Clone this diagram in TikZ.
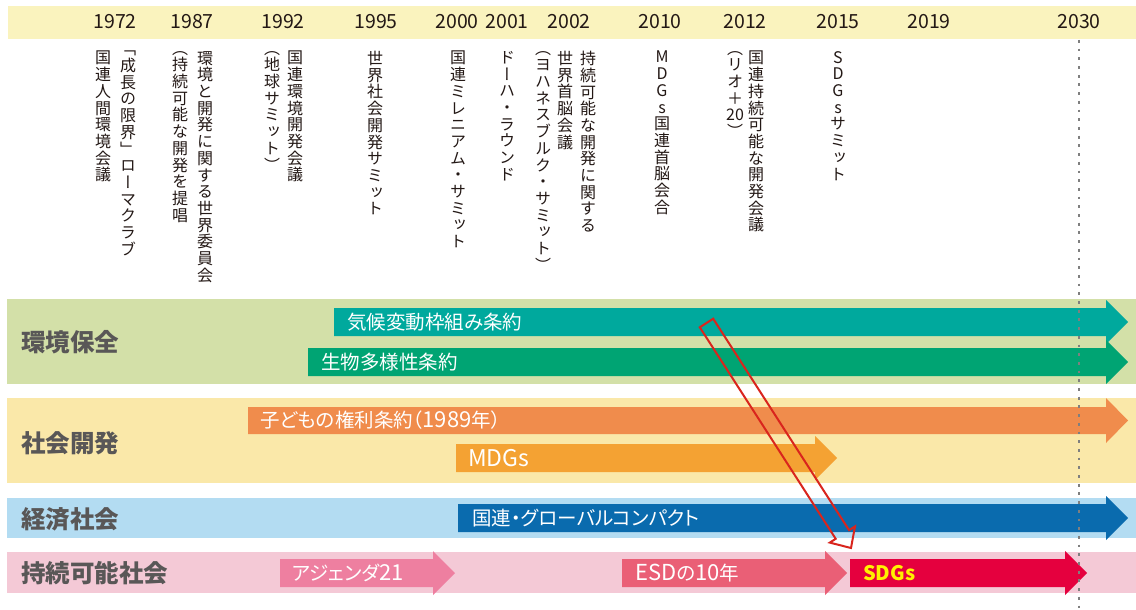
\documentclass[tikz,border=0pt]{standalone}
\usepackage{fontspec}
\setmainfont{Noto Sans CJK JP}
\newfontfamily\jpv[RawFeature=+vert]{Noto Sans CJK JP}
\newfontfamily\jpp[RawFeature=+palt]{Noto Sans CJK JP}
\definecolor{topband}{HTML}{FAF3BE}
\definecolor{gband}{HTML}{D3E0A8}
\definecolor{yband}{HTML}{FAE8A9}
\definecolor{bband}{HTML}{B3DCF2}
\definecolor{pband}{HTML}{F4C9D6}
\definecolor{tealc}{HTML}{00A99D}
\definecolor{greenc}{HTML}{00A473}
\definecolor{orangec}{HTML}{F08C4C}
\definecolor{mdgc}{HTML}{F4A233}
\definecolor{bluec}{HTML}{0A6BAE}
\definecolor{agc}{HTML}{EE7FA0}
\definecolor{esdc}{HTML}{EA5F76}
\definecolor{sdgc}{HTML}{E5003E}
\definecolor{sdgtext}{HTML}{FFF100}
\definecolor{redline}{HTML}{D9251D}
\definecolor{dotgray}{HTML}{7F7F7F}
\definecolor{labelgray}{HTML}{595757}
\definecolor{txtblack}{HTML}{231815}
\ExplSyntaxOn
\NewDocumentCommand\vcol{m}
 {
  \vbox:n
   {
    \skip_set:Nn \baselineskip {16.7pt}
    \dim_set:Nn \lineskiplimit {-100pt}
    \tl_map_inline:nn {#1} { \hbox_to_wd:nn {1em} { \hss ##1 \hss } }
   }
 }
\ExplSyntaxOff
\newcommand\lat[1]{{\fontsize{22}{20}\selectfont #1}}
\newcommand\barrow[8]{%
  \fill[#8] (#1,#2) -- (#4,#2) -- (#4,#6) -- (#5,{(#2+#3)/2}) -- (#4,#7) -- (#4,#3) -- (#1,#3) -- cycle;}
\tikzset{
  vtext/.style={anchor=north, inner sep=0pt, font=\jpv\fontsize{16}{16.7}\selectfont, text=txtblack},
  yearlab/.style={inner sep=0pt, font=\fontsize{19.5}{19.5}\selectfont, text=txtblack},
  bandlabel/.style={anchor=west, inner sep=0pt, font=\bfseries\fontsize{24.5}{25}\selectfont, text=labelgray},
  bartext/.style={anchor=west, inner sep=0pt, font=\jpp\fontsize{19.5}{20}\selectfont, text=white},
}
\begin{document}
\begin{tikzpicture}[x=1pt,y=-1pt]
\useasboundingbox (0,0) rectangle (1136,610);
\fill[white] (0,0) rectangle (1136,610);
% bands
\fill[topband] (8,6) rectangle (1136,39);
\fill[gband] (7,299) rectangle (1136,384);
\fill[yband] (7,398) rectangle (1136,483);
\fill[bband] (7,498) rectangle (1136,538);
\fill[pband] (7,552) rectangle (1136,593);
% years
\foreach \yx/\yr in {115/1972,192/1987,283/1992,376/1995,457/2000,507/2001,569/2002,660/2010,745/2012,838/2015,929/2019,1079/2030}
  \node[yearlab] (y\yr) at (\yx,22) {\yr};
% vertical texts
\node[vtext] (e72a) at (128,51) {\vcol{「成長の限界」ローマクラブ}};
\node[vtext] (e72b) at (103,51) {\vcol{国連人間環境会議}};
\node[vtext] (e87a) at (205,51) {\vcol{環境と開発に関する世界委員会}};
\node[vtext] (e87b) at (180,51) {\vcol{（持続可能な開発を提唱}};
\node[vtext] (e92a) at (295,51) {\vcol{国連環境開発会議}};
\node[vtext] (e92b) at (272,51) {\vcol{（地球サミット）}};
\node[vtext] (e95) at (375,51) {\vcol{世界社会開発サミット}};
\node[vtext] (e00) at (458,51) {\vcol{国連ミレニアム・サミット}};
\node[vtext] (e01) at (507,51) {\vcol{ドーハ・ラウンド}};
\node[vtext] (e02a) at (588,51) {\vcol{持続可能な開発に関する}};
\node[vtext] (e02b) at (565,51) {\vcol{世界首脳会議}};
\node[vtext] (e02c) at (543,51) {\vcol{（ヨハネスブルク・サミット）}};
\node[vtext] (e10) at (662,51) {\vcol{MDGs国連首脳会合}};
\node[vtext] (e12a) at (756,51) {\vcol{国連持続可能な開発会議}};
\node[vtext] (e12b) at (735,51) {\vcol{（リオ＋{20}）}};
\node[vtext] (e15) at (838,51) {\vcol{SDGsサミット}};
% band labels
\node[bandlabel] (l1) at (21,342) {環境保全};
\node[bandlabel] (l2) at (21,443) {社会開発};
\node[bandlabel] (l3) at (21,519) {経済社会};
\node[bandlabel] (l4) at (21,573) {持続可能社会};
% arrows
\barrow{334}{308}{336}{1106}{1128}{300}{344}{tealc}
\barrow{308}{348}{376}{1106}{1128}{340}{384}{greenc}
\barrow{248}{407}{434}{1106}{1128}{398}{443}{orangec}
\barrow{456}{444}{472}{815}{837}{436}{480}{mdgc}
\barrow{458}{504}{532}{1106}{1128}{496}{540}{bluec}
\barrow{280}{559}{587}{433}{455}{551}{595}{agc}
\barrow{622}{559}{587}{825}{847}{551}{595}{esdc}
\barrow{850}{559}{587}{1065}{1087}{551}{595}{sdgc}
\node[bartext] (t1) at (347,322) {気候変動枠組み条約};
\node[bartext] (t2) at (321,362) {生物多様性条約};
\node[bartext] (t3) at (260,420.5) {子どもの権利条約（\lat{1989}年）};
\node[bartext] (t4) at (468,458) {{\fontsize{23}{20}\selectfont MDGs}};
\node[bartext] (t5) at (472,518) {国連・グローバルコンパクト};
\node[bartext] (t6) at (292,573) {アジェンダ\lat{21}};
\node[bartext] (t7) at (635,573) {\lat{ESD}の\lat{10}年};
\node[bartext, text=sdgtext, font=\jpp\bfseries\fontsize{20}{20}\selectfont] (t8) at (863,573) {SDGs};
% dotted 2030 line
\coordinate (dtop) at (1079,40);
\coordinate (dbot) at (1079,610);
\draw[dotgray, line width=2.6pt, dash pattern=on 2.8pt off 5.9pt] (dtop) -- (dbot);
% red hollow arrow
\draw[redline, line width=2pt, line join=miter]
  (713.2,318.7) -- (849.1,530.2) -- (855.0,526.4) -- (851,548)
  -- (829.8,542.6) -- (835.7,538.8) -- (699.8,327.3) -- cycle;
\end{tikzpicture}
\end{document}
